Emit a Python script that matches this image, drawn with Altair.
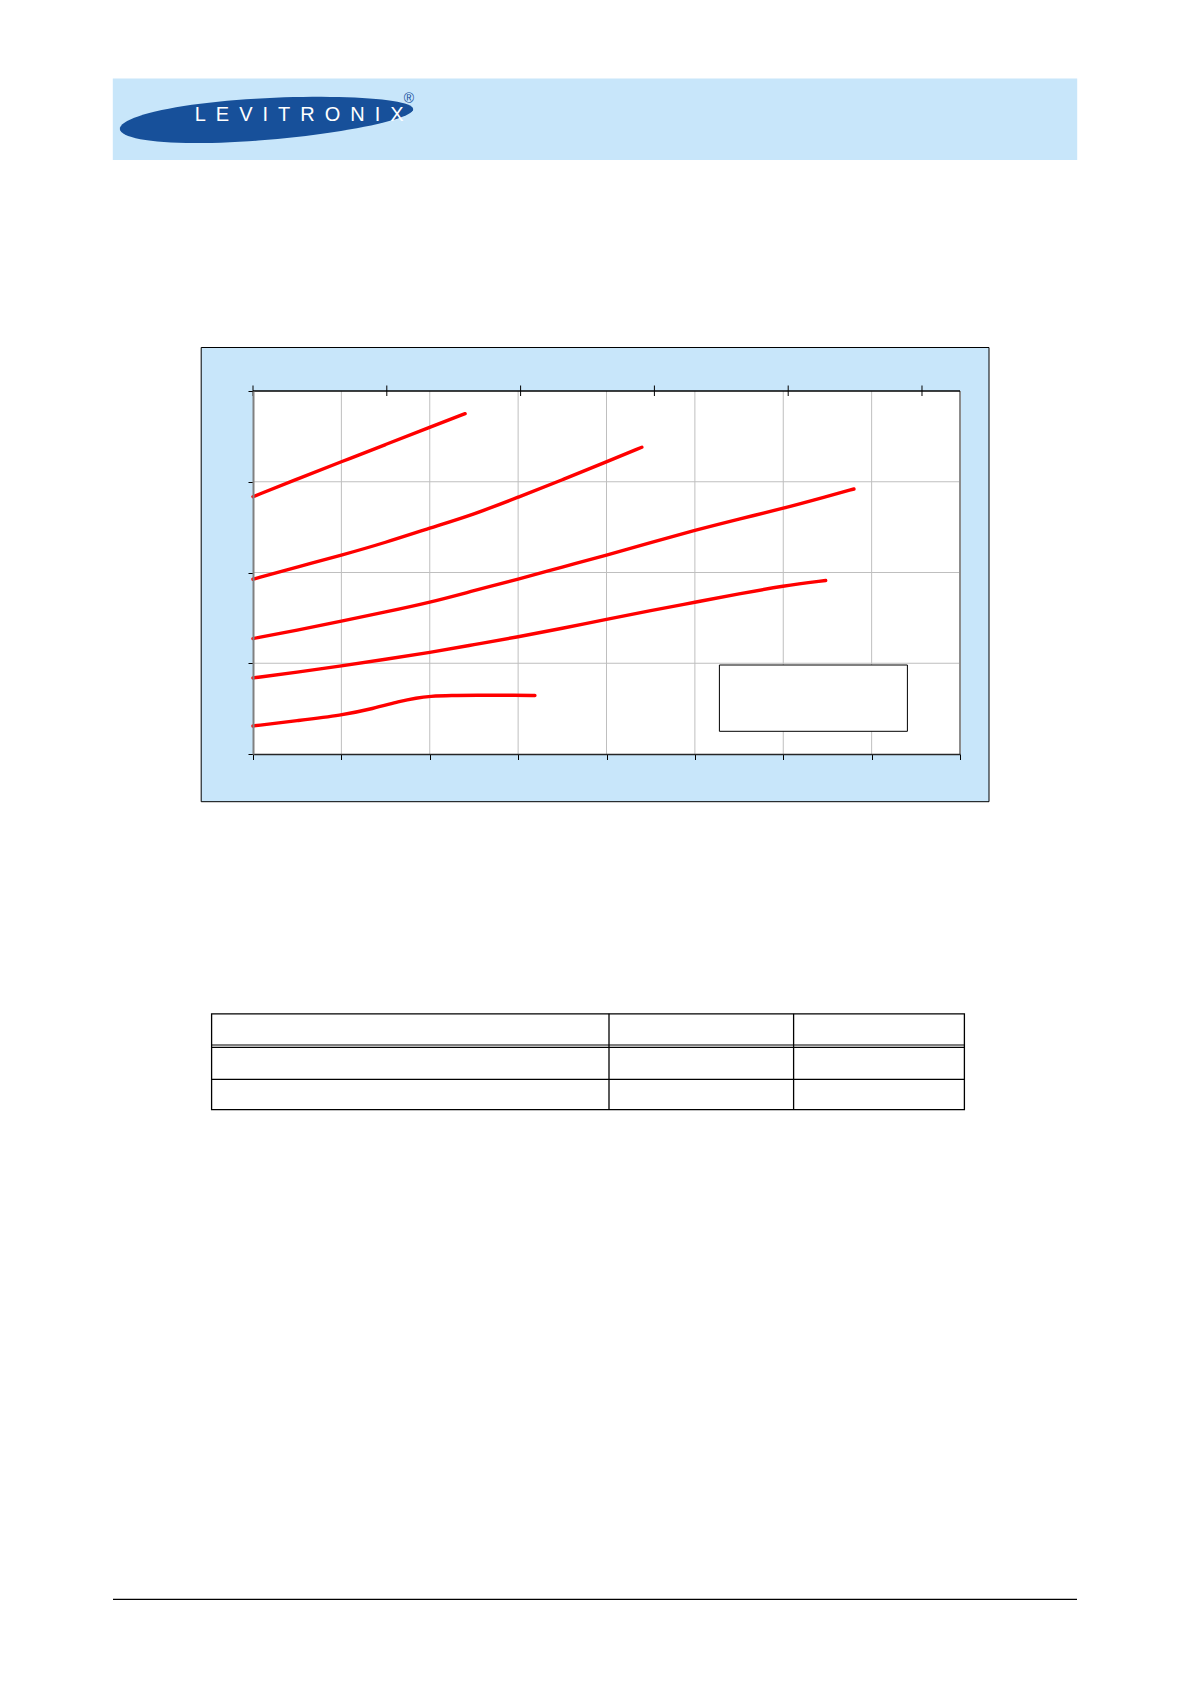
import math
import altair as alt
import pandas as pd

# ---------------- data ----------------
series_names = ["curve 1", "curve 2", "curve 3", "curve 4", "curve 5"]

flow_1 = [0, 5, 10, 15, 20, 24]
pres_1 = [2.835, 3.03, 3.22, 3.41, 3.60, 3.75]

flow_2 = [0, 5, 10, 15, 20, 25, 30, 35, 40, 44]
pres_2 = [1.926, 2.06, 2.19, 2.33, 2.49, 2.64, 2.83, 3.02, 3.22, 3.38]

flow_3 = [0, 5, 10, 15, 20, 25, 30, 35, 40, 45, 50, 55, 60, 65, 68]
pres_3 = [1.272, 1.365, 1.463, 1.565, 1.669, 1.80, 1.926, 2.06, 2.19, 2.33,
          2.465, 2.59, 2.706, 2.84, 2.92]

flow_4 = [0, 5, 10, 15, 20, 25, 30, 35, 40, 45, 50, 55, 60, 64.8]
pres_4 = [0.838, 0.90, 0.971, 1.044, 1.118, 1.205, 1.29, 1.385, 1.485, 1.58,
          1.672, 1.765, 1.853, 1.912]

flow_5 = [0, 5, 10, 13.6, 16.6, 18.5, 20, 22.5, 25, 30, 31.9]
pres_5 = [0.309, 0.368, 0.426, 0.50, 0.581, 0.618, 0.636, 0.645, 0.647, 0.647, 0.645]

x_ticks = [0, 10, 20, 30, 40, 50, 60, 70, 80]
x_grid = [10, 20, 30, 40, 50, 60, 70]
y_ticks = [0, 1, 2, 3, 4]
y_grid = [1, 2, 3]
gpm_ticks = [0, 4, 8, 12, 16, 20]
LPM_PER_GPM = 3.785

rows = []
for name, fl, pr in zip(series_names,
                        [flow_1, flow_2, flow_3, flow_4, flow_5],
                        [pres_1, pres_2, pres_3, pres_4, pres_5]):
    for f, p in zip(fl, pr):
        rows.append({"series": name, "flow": f, "pressure": p})
df = pd.DataFrame(rows)

# ---------------- layout / style ----------------
W, H = 707, 363
RED = "#FF0000"
LIGHT = "#C8E6FA"
BLUE = "#17509A"
one = pd.DataFrame({"k": [0]})

xs = alt.Scale(domain=[0, 80], nice=False, zero=False)
ys = alt.Scale(domain=[0, 4], nice=False, zero=False)


def box(x, x2, y, y2, **kw):
    return alt.Chart(one).mark_rect(**kw).encode(
        x=alt.value(x), x2=alt.value(x2), y=alt.value(y), y2=alt.value(y2))


def hline(x, x2, y, **kw):
    return alt.Chart(one).mark_rule(**kw).encode(
        x=alt.value(x), x2=alt.value(x2), y=alt.value(y))


def vline(x, y, y2, **kw):
    return alt.Chart(one).mark_rule(**kw).encode(
        x=alt.value(x), y=alt.value(y), y2=alt.value(y2))


# logo ellipse as custom symbol path (unit box)
pts = []
for i in range(96):
    t = 2 * math.pi * i / 96
    px = math.cos(t)
    py = 0.142 * math.sin(t) * (1 - 0.12 * math.cos(t))
    pts.append(f"{px:.4f},{py:.4f}")
ellipse_path = "M" + " L".join(pts) + " Z"

banner = box(-140.2, 824.2, -312.6, -231, color=LIGHT)
ellipse = alt.Chart(one).mark_point(
    shape=ellipse_path, size=86436, filled=True, color=BLUE, opacity=1,
    angle=356.1, strokeWidth=0).encode(x=alt.value(13.5), y=alt.value(-272))
logo_text = alt.Chart(one).mark_text(
    text="L\u2002E\u2002V\u2002I\u2002T\u2002R\u2002O\u2002N\u2002I\u2002X",
    font="Liberation Sans", fontSize=20, color="white",
    align="center", baseline="alphabetic").encode(
    x=alt.value(46.2), y=alt.value(-270.3))
reg = alt.Chart(one).mark_text(
    text="®", font="Liberation Sans", fontSize=14, color=BLUE,
    align="center", baseline="middle").encode(x=alt.value(156), y=alt.value(-291.7))

frame = box(-51.8, 736, -43.5, 410.7, fill=LIGHT, stroke="black", strokeWidth=1)
plot_bg = box(0, W, 0, H, color="white")

grid_v = alt.Chart(pd.DataFrame({"flow": x_grid})).mark_rule(
    color="#BFBFBF", strokeWidth=1).encode(
    x=alt.X("flow:Q", scale=xs, axis=None), y=alt.value(0), y2=alt.value(H))
grid_h = alt.Chart(pd.DataFrame({"pressure": y_grid})).mark_rule(
    color="#BFBFBF", strokeWidth=1).encode(
    y=alt.Y("pressure:Q", scale=ys, axis=None), x=alt.value(0), x2=alt.value(W))

legend_box = box(466.4, 654.4, 274, 340.3, fill="white", stroke="black", strokeWidth=1)

curves = alt.Chart(df).mark_line(
    color=RED, strokeWidth=3.4, interpolate="basis", strokeCap="round").encode(
    x=alt.X("flow:Q", scale=xs,
            axis=alt.Axis(values=x_ticks, labels=False, title=None, grid=False,
                          domainColor="#262626", domainWidth=1.5, tickColor="black",
                          tickSize=5.5, tickWidth=1, zindex=1)),
    y=alt.Y("pressure:Q", scale=ys,
            axis=alt.Axis(values=y_ticks, labels=False, title=None, grid=False,
                          domainColor="#808080", domainWidth=2, tickColor="black",
                          tickSize=5, tickWidth=1, zindex=1)),
    detail="series:N",
)

right_border = vline(W, 0, H, color="#8C8C8C", strokeWidth=2)
top_line = hline(0, W, 0, color="black", strokeWidth=1.3)
top_ticks = alt.Chart(pd.DataFrame({"gpm": gpm_ticks})).mark_rule(
    color="black", strokeWidth=1).encode(
    x=alt.X("gpm:Q", scale=alt.Scale(domain=[0, 80 / LPM_PER_GPM], nice=False, zero=False),
            axis=None),
    y=alt.value(-5.5), y2=alt.value(5))

# table (empty cells)
table_outer = box(-41.4, 711.4, 622.8, 718.7, fill="white", fillOpacity=0,
                  stroke="black", strokeWidth=1.3)
table_c1 = vline(356, 622.8, 718.7, color="black", strokeWidth=1.3)
table_c2 = vline(540.6, 622.8, 718.7, color="black", strokeWidth=1.3)
table_r1 = hline(-41.4, 711.4, 654, color="black", strokeWidth=1.2)
table_r2 = hline(-41.4, 711.4, 656.4, color="black", strokeWidth=1.2)
table_r3 = hline(-41.4, 711.4, 688.3, color="black", strokeWidth=1.3)

footer = hline(-140, 824, 1208.3, color="black", strokeWidth=1.3)

chart = alt.layer(
    banner, ellipse, logo_text, reg,
    frame, plot_bg, grid_v, grid_h, legend_box, curves,
    right_border, top_line, top_ticks,
    table_outer, table_c1, table_c2, table_r1, table_r2, table_r3,
    footer,
).resolve_scale(x="independent", y="independent").properties(
    width=W, height=H,
    padding={"left": 245, "top": 383, "right": 223, "bottom": 922},
    autosize=alt.AutoSizeParams(type="none"),
).configure_view(stroke=None)

chart.save("out.html", embed_options={"renderer": "svg", "actions": False})
